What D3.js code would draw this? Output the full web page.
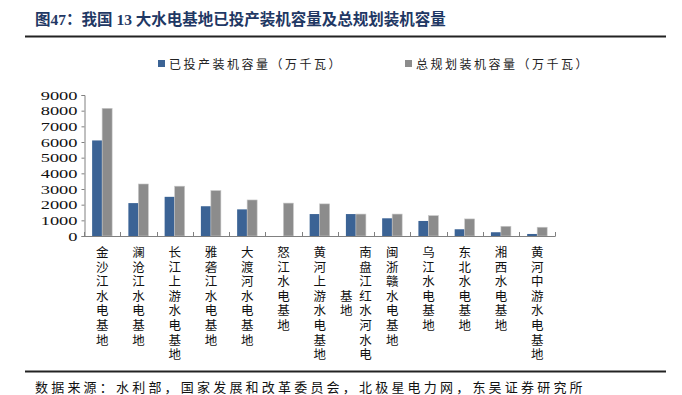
<!DOCTYPE html>
<html>
<head>
<meta charset="utf-8">
<script src="https://cdn.jsdelivr.net/npm/d3@7/dist/d3.min.js"></script>
<style>
  body{margin:0;background:#fff;}
  svg text{font-family:"Liberation Serif","Noto Sans CJK SC",serif;}
  .cjk{font-family:"Noto Sans CJK SC",sans-serif;}
  .vert{writing-mode:vertical-rl;text-orientation:upright;}
</style>
</head>
<body>
<div id="container"></div>
<script>
// 13 bases, values in 10k kW
var categories = ["金沙江水电基地","澜沧江水电基地","长江上游水电基地","雅砻江水电基地","大渡河水电基地",
  "怒江水电基地","黄河上游水电基地","南盘江红水河水电基地","闽浙赣水电基地","乌江水电基地",
  "东北水电基地","湘西水电基地","黄河中游水电基地"];
var installed = [6100, 2100, 2500, 1900, 1700, 0, 1400, 1400, 1130, 960, 430, 240, 130];
var planned   = [8150, 3320, 3180, 2900, 2300, 2100, 2050, 1400, 1400, 1300, 1090, 620, 560];
var yTicks = [0,1000,2000,3000,4000,5000,6000,7000,8000,9000];
var seriesNames = ["已投产装机容量（万千瓦）","总规划装机容量（万千瓦）"];
var colors = ["#3B6395","#8C8C8C"];

var W = 682, H = 395;
var svg = d3.select("#container").append("svg")
  .attr("width", W).attr("height", H);

// title + rules
svg.append("text").attr("x", 35).attr("y", 25)
  .attr("fill", "#1F3864").attr("font-weight", "bold").attr("font-size", 15.5)
  .text("图47：我国 13 大水电基地已投产装机容量及总规划装机容量");
svg.append("line").attr("x1", 25).attr("x2", 666).attr("y1", 36.5).attr("y2", 36.5)
  .attr("stroke", "#222").attr("stroke-width", 2);
svg.append("line").attr("x1", 25).attr("x2", 666).attr("y1", 371.5).attr("y2", 371.5)
  .attr("stroke", "#222").attr("stroke-width", 2);
svg.append("text").attr("class", "cjk").attr("x", 35).attr("y", 392)
  .attr("font-size", 13).attr("letter-spacing", 3.2).attr("fill", "#111")
  .text("数据来源：水利部，国家发展和改革委员会，北极星电力网，东吴证券研究所");

var x = d3.scaleBand().domain(categories).range([84, 555.3]).padding(0);
var y = d3.scaleLinear().domain([0, 9000]).range([236, 95]);
var barW = 10;

// legend
var legX = [158, 405];
seriesNames.forEach(function(n, i){
  svg.append("rect").attr("x", legX[i]).attr("y", 60).attr("width", 7).attr("height", 7)
    .attr("fill", colors[i]);
  svg.append("text").attr("class", "cjk").attr("x", legX[i] + 11).attr("y", 68.5)
    .attr("font-size", 12).attr("letter-spacing", 2.5).attr("fill", "#222").text(n);
});

// bars
var g = svg.append("g");
g.selectAll(".inst").data(categories).enter().append("rect")
  .attr("class", "inst")
  .attr("x", function(d){ return x(d) + x.bandwidth()/2 - barW; })
  .attr("width", barW)
  .attr("y", function(d, i){ return y(installed[i]); })
  .attr("height", function(d, i){ return y(0) - y(installed[i]); })
  .attr("fill", colors[0]);
g.selectAll(".plan").data(categories).enter().append("rect")
  .attr("class", "plan")
  .attr("x", function(d){ return x(d) + x.bandwidth()/2; })
  .attr("width", barW)
  .attr("y", function(d, i){ return y(planned[i]); })
  .attr("height", function(d, i){ return y(0) - y(planned[i]); })
  .attr("fill", colors[1]).attr("stroke", "#c8c8c8").attr("stroke-width", 0.6);

// y axis
var yAxis = svg.append("g").attr("transform", "translate(84.5,0)")
  .call(d3.axisLeft(y).tickValues(yTicks).tickSize(3).tickFormat(d3.format("d")));
yAxis.select(".domain").attr("stroke", "#808080");
yAxis.selectAll(".tick line").attr("stroke", "#808080");
yAxis.selectAll(".tick text")
  .attr("font-family", "Liberation Serif").attr("font-size", 13).attr("fill", "#111")
  .attr("x", -7)
  .attr("textLength", function(d){ return String(d).length * 9.2; })
  .attr("lengthAdjust", "spacingAndGlyphs");

// x axis line + ticks (inside)
svg.append("line").attr("x1", 84).attr("x2", 555.3).attr("y1", 236.5).attr("y2", 236.5)
  .attr("stroke", "#808080");
var bounds = categories.map(function(d){ return x(d); }).concat([x.range()[1]]);
svg.selectAll(".xt").data(bounds).enter().append("line")
  .attr("x1", function(d){ return Math.round(d) + 0.5; })
  .attr("x2", function(d){ return Math.round(d) + 0.5; })
  .attr("y1", 232).attr("y2", 236.5).attr("stroke", "#808080");

// vertical category labels, max 8 chars per column
var maxRows = 8, rowStep = 14.6, colStep = 19.3, fs = 12.5, top0 = 246;
categories.forEach(function(c){
  var cols = [];
  for (var k = 0; k < c.length; k += maxRows) cols.push(c.slice(k, k + maxRows));
  var cx = x(c) + x.bandwidth()/2;
  var rowsMax = d3.max(cols, function(s){ return s.length; });
  cols.forEach(function(s, ci){
    var colX = cx + ((cols.length - 1)/2 - ci) * colStep;
    var off = (rowsMax - s.length)/2;
    svg.append("text").attr("class", "cjk vert")
      .attr("x", colX).attr("y", top0 + off * rowStep)
      .attr("font-size", fs).attr("letter-spacing", rowStep - fs).attr("fill", "#111")
      .text(s);
  });
});
</script>
</body>
</html>
